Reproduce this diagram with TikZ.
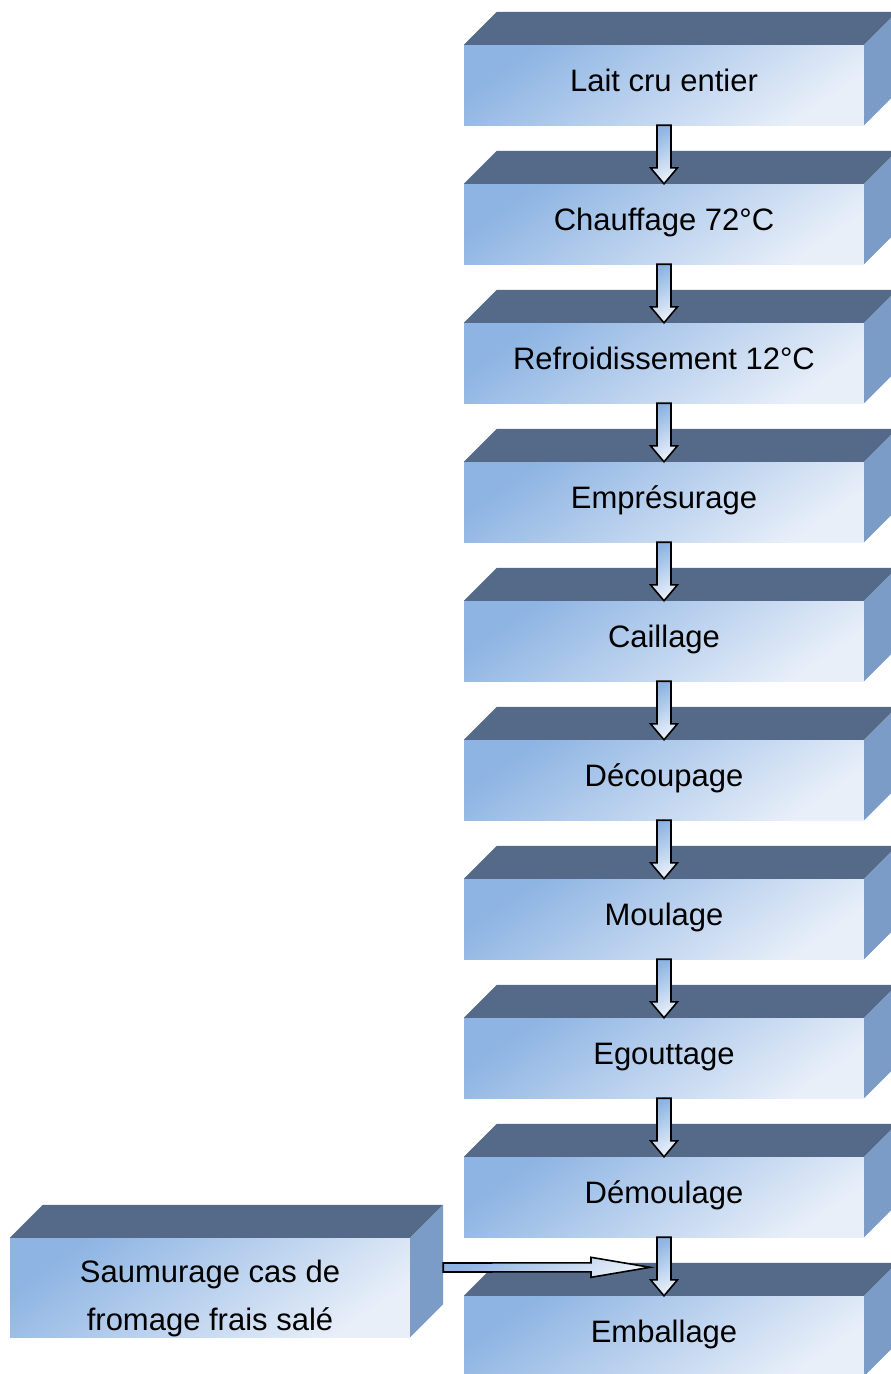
\documentclass[tikz,border=0pt]{standalone}
\usepackage{fontspec}
\setmainfont{Liberation Sans}
\usepackage{xcolor}
\usetikzlibrary{calc,positioning}

\definecolor{dessus}{HTML}{546A88}
\definecolor{cote}{HTML}{7B9CC7}
\definecolor{bleufonce}{HTML}{8DB4E3}
\definecolor{bleuclair}{HTML}{E8EFF9}
\def\prof{33}

\begin{document}
\begin{tikzpicture}[x=1pt,y=-1pt]
    \tikzstyle{bloc}=[rectangle,minimum width=400pt,minimum height=80pt,inner sep=0pt,
        top color=bleufonce,bottom color=bleuclair,shading angle=35,
        font=\fontsize{31}{48}\selectfont,text height=22pt,text depth=10pt]
    \tikzstyle{fleche}=[draw=black,line width=1.6pt,line join=miter,
        top color=bleufonce,bottom color=bleuclair,shading angle=30]
    \tikzstyle{etiquette}=[align=center,font=\fontsize{31}{48}\selectfont]

    \useasboundingbox (0,0) rectangle (891,1374);

    % les etapes
    \foreach \nom/\texte [count=\i from 0] in {lait/Lait cru entier, chauffage/Chauffage 72°C,
        refroidissement/Refroidissement 12°C, empresurage/Emprésurage, caillage/Caillage,
        decoupage/Découpage, moulage/Moulage, egouttage/Egouttage, demoulage/Démoulage,
        emballage/Emballage}
        \node[bloc] (\nom) at (664,85+139*\i) {\texte};

    \node[bloc,minimum height=99pt] (saumurage) at (210,1287.5) {};

    % faces du dessus et de cote
    \foreach \nom in {lait,chauffage,refroidissement,empresurage,caillage,decoupage,
        moulage,egouttage,demoulage,emballage,saumurage}{
        \fill[dessus] (\nom.north west) -- ++(\prof,-\prof) -- ($(\nom.north east)+(\prof,-\prof)$)
            -- (\nom.north east) -- cycle;
        \fill[cote] (\nom.north east) -- ++(\prof,-\prof) -- ($(\nom.south east)+(\prof,-\prof)$)
            -- (\nom.south east) -- cycle;
    }

    \begin{scope}
        \clip (saumurage.south west) rectangle (saumurage.north east);
        \node[etiquette] (saumuragetexte) at (210,1298) {Saumurage cas de\\fromage frais salé};
    \end{scope}

    % fleche laterale
    \coordinate (pointe) at ($(emballage.north)+(-14,-28.5)$);
    \path[fleche] ($(saumurage.east)+(\prof,-24.5)$) -- ($(pointe)+(-59,-4.5)$)
        -- ($(pointe)+(-59,-10)$) -- (pointe) -- ($(pointe)+(-59,10)$)
        -- ($(pointe)+(-59,4.5)$) -- ($(saumurage.east)+(\prof,-15.5)$) -- cycle;

    % fleches entre les etapes
    \foreach \de/\vers in {lait/chauffage,chauffage/refroidissement,refroidissement/empresurage,
        empresurage/caillage,caillage/decoupage,decoupage/moulage,moulage/egouttage,
        egouttage/demoulage,demoulage/emballage}
        \path[fleche] ($(\de.south)+(-7,0)$) -- ($(\vers.north)+(-7,-16)$)
            -- ($(\vers.north)+(-13.5,-16)$) -- (\vers.north) -- ($(\vers.north)+(13.5,-16)$)
            -- ($(\vers.north)+(7,-16)$) -- ($(\de.south)+(7,0)$) -- cycle;
\end{tikzpicture}
\end{document}
